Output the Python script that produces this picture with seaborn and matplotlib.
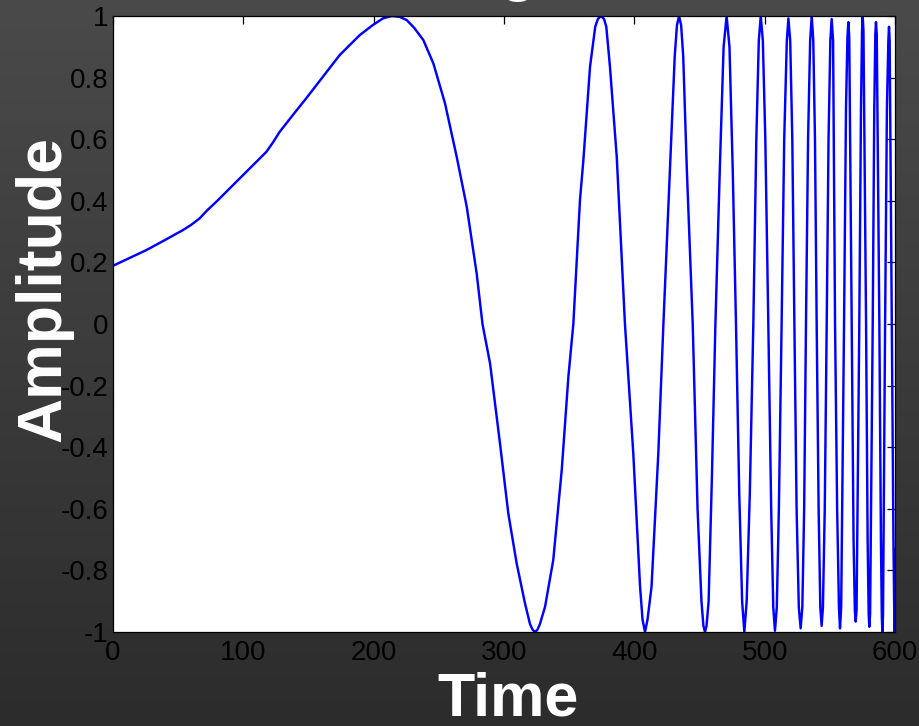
import numpy as np
import pandas as pd
import matplotlib
matplotlib.use("Agg")
import matplotlib.pyplot as plt
import seaborn as sns

# ---- data ----
time = [0, 12, 25.6, 40.9, 53.7, 60, 66.5, 72, 79.3, 92.1, 107.4, 112.5,
        117.7, 122.8, 127.9, 138.1, 148.3, 161.1, 173.9, 189.3, 199.5, 207,
        214, 220, 225.3, 231, 238.1, 245.8, 254.7, 263.7, 271.4, 279.0, 283.5,
        289.3, 296.9, 303.3, 309.7, 316.1, 320, 322, 323.8, 325.6, 327.5,
        331.5, 337.8, 344.3, 349.4, 353.2, 358.3, 360.9, 366.0, 370, 372,
        374.4, 376.8, 378.5, 381.3, 386.5, 392.8, 399.2, 404.4, 406.3, 408.2,
        410.1, 413.2, 418.4, 422.3, 427.4, 431, 432.7, 434.3, 435.9, 437.5,
        440.2, 444.8, 448.5, 451.5, 453, 454.2, 455.4, 457, 459.5, 462.2,
        465.7, 468.5, 470.8, 473, 475.5, 478.0, 480.5, 482.7, 484.4, 486.2,
        488.6, 491.3, 493.6, 495.5, 497.0, 498.6, 500.5, 502.8, 505.0, 506.6,
        507.9, 509.3, 510.9, 513.0, 515.0, 517.0, 518.2, 519.6, 521.2, 522.8,
        524.5, 526.2, 527.6, 528.9, 530.3, 531.7, 533.3, 534.9, 536.1, 537.3,
        538.6, 539.9, 541.4, 542.7, 543.7, 544.7, 546.1, 547.6, 549.0, 550.4,
        551.4, 552.5, 554.0, 555.6, 557.0, 557.8, 558.7, 560.9, 562.4, 563.5,
        564.2, 564.9, 566.8, 568.2, 569.2, 569.8, 570.5, 572.6, 573.9, 574.7,
        575.2, 575.8, 577.8, 579.0, 579.8, 580.3, 580.9, 582.9, 584.1, 584.9,
        585.4, 586.0, 588.0, 589.2, 589.9, 590.3, 590.8, 592.4, 593.8, 594.9,
        595.4, 595.9, 597.5, 598.8, 599.6, 600.0]
amplitude = [0.189, 0.213, 0.240, 0.275, 0.305, 0.322, 0.343, 0.368, 0.397,
             0.451, 0.516, 0.537, 0.559, 0.590, 0.624, 0.679, 0.733, 0.803,
             0.873, 0.938, 0.971, 0.992, 1.0, 0.997, 0.987, 0.962, 0.922,
             0.846, 0.717, 0.543, 0.381, 0.165, 0.0, -0.128, -0.387, -0.615,
             -0.777, -0.907, -0.975, -0.993, -1.0, -0.993, -0.975, -0.918,
             -0.766, -0.474, -0.171, 0.0, 0.403, 0.532, 0.835, 0.965, 0.99,
             1.0, 0.99, 0.965, 0.835, 0.543, 0.0, -0.42, -0.853, -0.96, -1.0,
             -0.96, -0.853, -0.42, 0.0, 0.511, 0.87, 0.97, 1.0, 0.97, 0.87,
             0.511, 0.0, -0.6, -0.9, -0.98, -1.0, -0.98, -0.9, -0.5, 0.0, 0.52,
             0.9, 1.0, 0.9, 0.5, 0.0, -0.55, -0.9, -1.0, -0.9, -0.55, 0.0, 0.6,
             0.92, 1.0, 0.92, 0.6, 0.0, -0.6, -0.92, -0.996, -0.92, -0.6, 0.0,
             0.6, 0.92, 0.992, 0.92, 0.6, 0.0, -0.6, -0.92, -0.988, -0.92,
             -0.6, 0.0, 0.6, 0.92, 1.0, 0.92, 0.6, 0.0, -0.6, -0.92, -0.98,
             -0.92, -0.6, 0.0, 0.6, 0.92, 0.99, 0.92, 0.0, -0.6, -0.92, -0.988,
             -0.92, 0.0, 0.7, 0.93, 0.98, 0.93, 0.0, -0.7, -0.93, -0.966,
             -0.93, 0.0, 0.7, 0.95, 1.0, 0.95, 0.0, -0.7, -0.94, -0.983, -0.94,
             0.0, 0.7, 0.94, 0.98, 0.94, 0.0, -0.7, -0.95, -1.0, -0.95, 0.0,
             0.7, 0.92, 0.965, 0.92, 0.0, -0.7, -1.0, -0.73]

x_ticks = [0, 100, 200, 300, 400, 500, 600]
x_tick_labels = ["0", "100", "200", "300", "400", "500", "600"]
y_ticks = [-1, -0.8, -0.6, -0.4, -0.2, 0, 0.2, 0.4, 0.6, 0.8, 1]
y_tick_labels = ["-1", "-0.8", "-0.6", "-0.4", "-0.2", "0", "0.2", "0.4",
                 "0.6", "0.8", "1"]

df = pd.DataFrame({"Time": time, "Amplitude": amplitude})

sns.set_theme(style="white")
plt.rcParams["font.family"] = ["Liberation Sans", "DejaVu Sans"]

W, H = 920, 726
fig = plt.figure(figsize=(W / 100, H / 100), dpi=100)

# gradient background
bg = fig.add_axes([0, 0, 1, 1], zorder=-10)
grad = np.linspace(74, 44, 256).reshape(-1, 1) / 255.0
bg.imshow(np.dstack([grad, grad, grad]), aspect="auto", extent=[0, 1, 0, 1],
          interpolation="bilinear")
bg.set_axis_off()

L, R, T, B = 113, 895, 16, 632
ax = fig.add_axes([L / W, 1 - B / H, (R - L) / W, (B - T) / H])
ax.set_facecolor("white")

sns.lineplot(data=df, x="Time", y="Amplitude", ax=ax, color="#0000ff",
             linewidth=1.75, errorbar=None, estimator=None, sort=False)

ax.set_xlim(0, 600)
ax.set_ylim(-1, 1)
ax.set_xticks(x_ticks)
ax.set_xticklabels(x_tick_labels)
ax.set_yticks(y_ticks)
ax.set_yticklabels(y_tick_labels)
ax.tick_params(direction="in", top=True, right=True, length=5.5, width=0.9,
               color="black", labelsize=20, labelcolor="black", pad=3.5)
ax.tick_params(axis="x", pad=6)
for s in ax.spines.values():
    s.set_color("black")
    s.set_linewidth(0.9)
    s.set_visible(True)

ax.set_xlabel("Time", fontsize=44, fontweight="bold", color="white")
ax.xaxis.set_label_coords((508 - L) / (R - L), (B - 716) / (B - T))
ax.xaxis.label.set_va("baseline")
ax.xaxis.label.set_ha("center")

ax.set_ylabel("Amplitude", fontsize=45, fontweight="bold", color="white")
ax.yaxis.set_label_coords((44 - L) / (R - L), (B - 289) / (B - T))
ax.yaxis.label.set_va("center")
ax.yaxis.label.set_ha("center")

# title, mostly above the visible canvas (only the descender shows)
fig.text(442 / W, 1 + 11 / H, "Signal", fontsize=44, fontweight="bold",
         color="white", ha="left", va="baseline")

fig.savefig("out.png", dpi=100)
